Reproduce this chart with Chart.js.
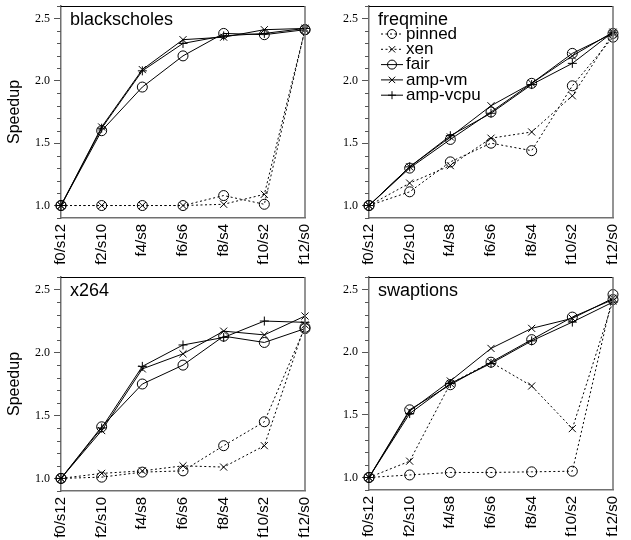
<!DOCTYPE html>
<html lang="en">
<head>
    <meta charset="UTF-8">
    <title>Speedup</title>
    <script src="https://cdn.jsdelivr.net/npm/chart.js@4.4.1/dist/chart.umd.min.js"></script>
    <style>
        body { margin: 0; background: #fff; }
        .panel { position: absolute; }
    </style>
</head>
<body>
    <div class="panel" style="left:0;top:0;"><canvas id="blackscholes" width="315" height="270"></canvas></div>
    <div class="panel" style="left:315px;top:0;"><canvas id="freqmine" width="316" height="270"></canvas></div>
    <div class="panel" style="left:0;top:270px;"><canvas id="x264" width="315" height="270"></canvas></div>
    <div class="panel" style="left:315px;top:270px;"><canvas id="swaptions" width="316" height="270"></canvas></div>

    <script>
        const categories = ['f0/s12', 'f2/s10', 'f4/s8', 'f6/s6', 'f8/s4', 'f10/s2', 'f12/s0'];
        const seriesNames = ['pinned', 'xen', 'fair', 'amp-vm', 'amp-vcpu'];
        const yTicks = [1.0, 1.5, 2.0, 2.5];

        const blackscholesPinned = [1.00, 1.00, 1.00, 1.00, 1.08, 1.01, 2.41];
        const blackscholesXen = [1.00, 1.00, 1.00, 1.00, 1.01, 1.09, 2.41];
        const blackscholesFair = [1.00, 1.60, 1.95, 2.20, 2.38, 2.37, 2.41];
        const blackscholesAmpVm = [1.00, 1.63, 2.09, 2.33, 2.35, 2.41, 2.42];
        const blackscholesAmpVcpu = [1.00, 1.62, 2.08, 2.30, 2.36, 2.38, 2.42];

        const freqminePinned = [1.00, 1.11, 1.35, 1.50, 1.44, 1.96, 2.35];
        const freqmineXen = [1.00, 1.18, 1.32, 1.54, 1.59, 1.88, 2.38];
        const freqmineFair = [1.00, 1.30, 1.53, 1.75, 1.98, 2.22, 2.38];
        const freqmineAmpVm = [1.00, 1.31, 1.55, 1.80, 1.98, 2.20, 2.39];
        const freqmineAmpVcpu = [1.00, 1.31, 1.56, 1.74, 1.97, 2.14, 2.39];

        const x264Pinned = [1.00, 1.01, 1.05, 1.06, 1.26, 1.45, 2.20];
        const x264Xen = [1.00, 1.04, 1.06, 1.10, 1.09, 1.26, 2.22];
        const x264Fair = [1.00, 1.41, 1.75, 1.90, 2.13, 2.08, 2.19];
        const x264AmpVm = [1.00, 1.38, 1.87, 1.99, 2.17, 2.14, 2.29];
        const x264AmpVcpu = [1.00, 1.40, 1.89, 2.06, 2.12, 2.25, 2.24];

        const swaptionsPinned = [1.00, 1.02, 1.04, 1.04, 1.045, 1.05, 2.46];
        const swaptionsXen = [1.00, 1.13, 1.75, 1.92, 1.73, 1.39, 2.41];
        const swaptionsFair = [1.00, 1.54, 1.74, 1.92, 2.10, 2.28, 2.42];
        const swaptionsAmpVm = [1.00, 1.53, 1.77, 2.03, 2.19, 2.27, 2.43];
        const swaptionsAmpVcpu = [1.00, 1.51, 1.75, 1.91, 2.09, 2.24, 2.40];

        const SANS = "'Liberation Sans', Arial, sans-serif";
        const SERIF = "'Liberation Serif', 'Times New Roman', serif";
        const AXIS_GRAY = '#707070';

        // look of each series: dotted or solid line, marker shape
        const seriesStyle = [
            { dash: [2, 2.5], point: 'circle', radius: 5 },
            { dash: [2, 2.5], point: 'crossRot', radius: 5 },
            { dash: [], point: 'circle', radius: 5 },
            { dash: [], point: 'crossRot', radius: 5 },
            { dash: [], point: 'cross', radius: 4.5 }
        ];

        function drawMarker(ctx, style, x, y, r) {
            ctx.beginPath();
            if (style === 'circle') {
                ctx.arc(x, y, r, 0, Math.PI * 2);
            } else if (style === 'crossRot') {
                const d = r * Math.SQRT1_2;
                ctx.moveTo(x - d, y - d); ctx.lineTo(x + d, y + d);
                ctx.moveTo(x + d, y - d); ctx.lineTo(x - d, y + d);
            } else {
                ctx.moveTo(x - r, y); ctx.lineTo(x + r, y);
                ctx.moveTo(x, y - r); ctx.lineTo(x, y + r);
            }
            ctx.stroke();
        }

        function noPad(s) {
            s.paddingLeft = 0;
            s.paddingRight = 0;
            s.paddingTop = 0;
            s.paddingBottom = 0;
        }

        // frame, minor ticks, panel name and legend
        const panelDecor = {
            id: 'panelDecor',
            afterDraw(chart, args, opts) {
                const ctx = chart.ctx;
                const a = chart.chartArea;
                const yScale = chart.scales.y;
                ctx.save();
                ctx.lineWidth = 1;
                ctx.strokeStyle = '#000';
                ctx.beginPath();
                ctx.moveTo(a.left, a.top + 0.5);
                ctx.lineTo(a.right, a.top + 0.5);
                ctx.stroke();
                ctx.strokeStyle = AXIS_GRAY;
                ctx.lineWidth = 1.5;
                ctx.beginPath();
                ctx.moveTo(a.right, a.top);
                ctx.lineTo(a.right, a.bottom);
                ctx.stroke();

                ctx.lineWidth = 1;
                ctx.strokeStyle = '#555';
                for (let k = 9; k <= 26; k++) {
                    if (k % 5 === 0) continue;
                    const py = Math.round(yScale.getPixelForValue(k / 10)) + 0.5;
                    ctx.beginPath();
                    ctx.moveTo(a.left - 4, py);
                    ctx.lineTo(a.left, py);
                    ctx.stroke();
                }

                ctx.fillStyle = '#000';
                ctx.textBaseline = 'middle';
                ctx.textAlign = 'left';
                ctx.font = '18px ' + SANS;
                ctx.fillText(opts.text, a.left + 9, a.top + 14);

                if (opts.legend) {
                    ctx.font = '17px ' + SANS;
                    seriesNames.forEach((name, i) => {
                        const st = seriesStyle[i];
                        const ly = a.top + 28 + i * 15.3;
                        ctx.strokeStyle = '#000';
                        ctx.lineWidth = 1;
                        ctx.setLineDash(st.dash);
                        ctx.beginPath();
                        ctx.moveTo(a.left + 12, ly);
                        ctx.lineTo(a.left + 34, ly);
                        ctx.stroke();
                        ctx.setLineDash([]);
                        drawMarker(ctx, st.point, a.left + 23, ly, st.point === 'cross' ? 4 : 4.5);
                        ctx.fillText(name, a.left + 37, ly);
                    });
                }
                ctx.restore();
            }
        };

        function makePanel(id, title, values, box) {
            const datasets = values.map((vals, i) => ({
                label: seriesNames[i],
                data: vals,
                borderColor: '#000',
                borderWidth: 1,
                borderDash: seriesStyle[i].dash,
                backgroundColor: 'rgba(0,0,0,0)',
                pointStyle: seriesStyle[i].point,
                pointRadius: seriesStyle[i].radius,
                pointBorderColor: '#000',
                pointBorderWidth: 1,
                pointBackgroundColor: 'rgba(0,0,0,0)',
                tension: 0,
                fill: false,
                clip: false
            }));

            return new Chart(id, {
                type: 'line',
                data: { labels: categories, datasets: datasets },
                options: {
                    responsive: false,
                    animation: false,
                    events: [],
                    layout: { padding: { top: box.top, right: box.right, left: 0, bottom: 0 } },
                    plugins: {
                        legend: { display: false },
                        tooltip: { enabled: false },
                        panelDecor: { text: title, legend: box.legend }
                    },
                    scales: {
                        x: {
                            type: 'category',
                            offset: false,
                            grid: { display: false, drawTicks: false },
                            border: { display: true, color: AXIS_GRAY, width: 1.5 },
                            ticks: {
                                autoSkip: false,
                                minRotation: 90,
                                maxRotation: 90,
                                padding: 6,
                                color: '#000',
                                font: { family: SANS, size: 15 }
                            },
                            afterFit: s => { s.height = box.xh; noPad(s); }
                        },
                        y: {
                            min: 0.9,
                            max: 2.6,
                            afterBuildTicks: s => { s.ticks = yTicks.map(v => ({ value: v })); },
                            grid: { drawOnChartArea: false, drawTicks: true, tickLength: 7, color: '#555' },
                            border: { display: true, color: AXIS_GRAY, width: 1.5 },
                            ticks: {
                                padding: 4,
                                color: '#000',
                                font: { family: SERIF, size: 12 },
                                callback: v => Number(v).toFixed(1)
                            },
                            title: {
                                display: box.ytitle,
                                text: 'Speedup',
                                color: '#000',
                                padding: 5,
                                font: { family: SANS, size: 16 }
                            },
                            afterFit: s => { s.width = box.yw; noPad(s); }
                        }
                    }
                },
                plugins: [panelDecor]
            });
        }

        makePanel('blackscholes', 'blackscholes',
            [blackscholesPinned, blackscholesXen, blackscholesFair, blackscholesAmpVm, blackscholesAmpVcpu],
            { top: 5, right: 10, yw: 61, xh: 52, ytitle: true, legend: false });
        makePanel('freqmine', 'freqmine',
            [freqminePinned, freqmineXen, freqmineFair, freqmineAmpVm, freqmineAmpVcpu],
            { top: 5, right: 18, yw: 54, xh: 52, ytitle: false, legend: true });
        makePanel('x264', 'x264',
            [x264Pinned, x264Xen, x264Fair, x264AmpVm, x264AmpVcpu],
            { top: 7, right: 10, yw: 61, xh: 49, ytitle: true, legend: false });
        makePanel('swaptions', 'swaptions',
            [swaptionsPinned, swaptionsXen, swaptionsFair, swaptionsAmpVm, swaptionsAmpVcpu],
            { top: 7, right: 18, yw: 54, xh: 50, ytitle: false, legend: false });
    </script>
</body>
</html>
